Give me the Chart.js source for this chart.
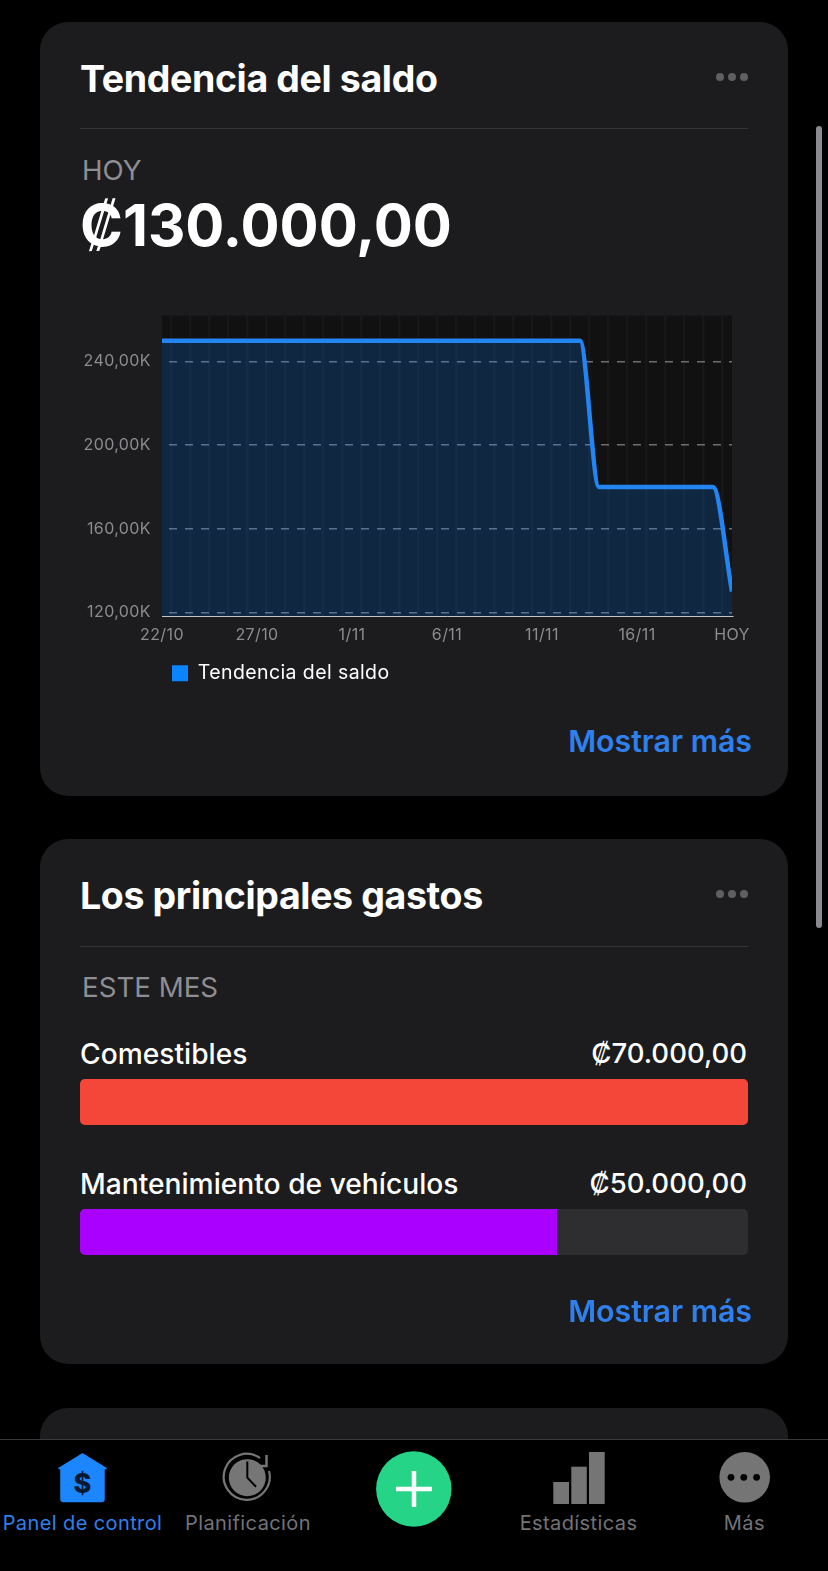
<!DOCTYPE html>
<html lang="es"><head><meta charset="utf-8">
<script src="https://cdn.jsdelivr.net/npm/chart.js@4/dist/chart.umd.js"></script>
<style>
html,body{margin:0;padding:0;background:#000;width:828px;height:1571px;overflow:hidden;font-family:Inter,"Noto Sans",sans-serif;color:#fff}
.abs,.card,canvas{position:absolute}
.card{left:40px;width:748px;background:#1c1c1e;border-radius:28px}
.t{position:absolute;white-space:nowrap;line-height:1}
.h{left:80px;font-size:37.5px;font-weight:700;letter-spacing:-.37px}
.sep{position:absolute;left:80px;width:668px;height:1px;background:#343436}
.sub{left:82px;font-size:27.7px;color:#8e8e93;font-weight:400}
.more{right:76px;font-size:30.3px;font-weight:600;color:#2f80ed}
.dots{position:absolute;left:716px;display:flex;gap:4px}
.dots i{width:8px;height:8px;border-radius:50%;background:#5f5f62;display:block}
.lab{font-size:28.2px;font-weight:500}
.val{font-size:27.5px;font-weight:500}
.tab{position:absolute;top:1439px;left:0;width:828px;height:132px;background:#000;border-top:1px solid #3a3a3c;box-sizing:border-box}
.tl{position:absolute;top:1513px;font-size:20px;line-height:1;white-space:nowrap;transform:translateX(-50%);color:#737378;letter-spacing:.4px}
</style></head><body>
<div class="card" style="top:22px;height:774px"></div>
<div class="card" style="top:839px;height:525px"></div>
<div class="card" style="top:1408px;height:120px"></div>
<div class="abs" style="left:816px;top:126px;width:6px;height:802px;border-radius:3px;background:#8a8a8e"></div>

<div class="t h" style="top:59.5px">Tendencia del saldo</div>
<div class="dots" style="top:73px"><i></i><i></i><i></i></div>
<div class="sep" style="top:128px"></div>
<div class="t sub" style="top:156.5px">HOY</div>
<div class="t" id="bal" style="left:80px;top:196px;font-size:58px;font-weight:700">₡130.000,00</div>
<canvas id="trend"></canvas>
<div class="t more" style="top:726px">Mostrar más</div>

<div class="t h" style="top:877px">Los principales gastos</div>
<div class="dots" style="top:890px"><i></i><i></i><i></i></div>
<div class="sep" style="top:946px"></div>
<div class="t sub" style="top:974px">ESTE MES</div>
<div class="t lab" id="l0" style="left:80px;top:1040px"></div>
<div class="t val" id="v0" style="right:81px;top:1040px"></div>
<div class="t lab" id="l1" style="left:80px;top:1170px"></div>
<div class="t val" id="v1" style="right:81px;top:1170px"></div>
<canvas id="spend"></canvas>
<div class="t more" style="top:1295.5px">Mostrar más</div>

<div class="tab"></div>
<svg class="abs" style="left:0;top:1440px" width="828" height="100" viewBox="0 1440 828 100">
  <path d="M82.5 1454 L106 1468.5 H104 V1499 Q104 1501.5 101.5 1501.5 H63.5 Q61 1501.5 61 1499 V1468.5 H59 Z" fill="#1c86ff" stroke="#1c86ff" stroke-width="1.5" stroke-linejoin="round"/>
  <text x="82.5" y="1492.5" text-anchor="middle" font-family="Inter" font-size="27" font-weight="800" fill="#071a33">$</text>
  <path d="M260 1458 A23 23 0 1 0 269 1471" fill="none" stroke="#767676" stroke-width="2.2"/>
  <circle cx="247.3" cy="1477.7" r="18.5" fill="#767676"/>
  <path d="M247.3 1461.5 V1477.7 L256 1486.7" fill="none" stroke="#000" stroke-width="2"/>
  <path d="M266.5 1455 V1466 H255" fill="none" stroke="#767676" stroke-width="2.5"/>
  <circle cx="413.8" cy="1489" r="37.7" fill="#26d487"/>
  <path d="M414 1471 V1507 M396 1489 H432" stroke="#fff" stroke-width="4.5" fill="none"/>
  <rect x="553.3" y="1482" width="15.7" height="22" fill="#757575"/>
  <rect x="571.3" y="1466.7" width="15.5" height="37.3" fill="#757575"/>
  <rect x="589" y="1452" width="15.7" height="52" fill="#757575"/>
  <circle cx="744.7" cy="1477.3" r="25.3" fill="#757575"/>
  <circle cx="731" cy="1477.3" r="3.4" fill="#000"/><circle cx="743.8" cy="1477.3" r="3.4" fill="#000"/><circle cx="756.6" cy="1477.3" r="3.4" fill="#000"/>
</svg>
<div class="tl" style="left:82.5px;color:#2f80ed">Panel de control</div>
<div class="tl" style="left:248px">Planificación</div>
<div class="tl" style="left:578.5px">Estadísticas</div>
<div class="tl" style="left:744.4px">Más</div>

<script>
const dayLabels = ['22/10','23/10','24/10','25/10','26/10','27/10','28/10','29/10','30/10','31/10','1/11','2/11','3/11','4/11','5/11','6/11','7/11','8/11','9/11','10/11','11/11','12/11','13/11','14/11','15/11','16/11','17/11','18/11','19/11','20/11','HOY'];
const balanceValues = [250000,250000,250000,250000,250000,250000,250000,250000,250000,250000,250000,250000,250000,250000,250000,250000,250000,250000,250000,250000,250000,250000,250000,180000,180000,180000,180000,180000,180000,180000,130000];
const yTickValues = [120000,160000,200000,240000];
const seriesName = 'Tendencia del saldo';
const spendCategories = ['Comestibles','Mantenimiento de vehículos'];
const spendValues = [70000,50000];
const money = v => '₡' + String(v).replace(/\B(?=(\d{3})+$)/g,'.') + ',00';

spendCategories.forEach((c,i)=>{document.getElementById('l'+i).textContent=c;document.getElementById('v'+i).textContent=money(spendValues[i]);});

Chart.defaults.animation=false;
Chart.defaults.responsive=false;
Chart.defaults.font.family='Inter';

function place(id,l,t,w,h){const c=document.getElementById(id);c.width=w;c.height=h;c.style.left=l+'px';c.style.top=t+'px';c.style.width=w+'px';c.style.height=h+'px';return c;}

const plotBg={id:'plotBg',beforeDraw(ch){const a=ch.chartArea,x=ch.ctx;x.save();x.fillStyle='#111112';x.fillRect(a.left,a.top,a.width,a.height);x.restore();}};
const spacing={id:'spacing',beforeInit(ch){ch.ctx.letterSpacing='0.4px';},beforeDraw(ch){ch.ctx.letterSpacing='0.4px';}};

/* trend chart: canvas at (60,295) */
new Chart(place('trend',60,295,742,398),{
  type:'line',
  data:{labels:dayLabels,datasets:[{label:seriesName,data:balanceValues,borderColor:'#2285f2',backgroundColor:'rgba(10,132,255,0.2)',borderWidth:4.5,fill:'origin',cubicInterpolationMode:'monotone',pointRadius:0,clip:0}]},
  plugins:[spacing,plotBg],
  options:{
    layout:{padding:{top:10,right:70,left:0,bottom:0}},
    scales:{
      x:{type:'category',offset:false,
        afterFit(ax){ax.height-=0.5;},
        grid:{offset:true,color:'rgba(255,255,255,0.028)',lineWidth:2.5,drawTicks:false},
        border:{color:'#c4c4c8',width:1,z:2},
        ticks:{autoSkip:false,maxRotation:0,padding:9,color:'#8c8c90',font:{size:16},callback(v,i){return i%5===0?this.getLabelForValue(v):'';}}},
      y:{min:117900,max:262000,
        afterBuildTicks(ax){ax.ticks=yTickValues.map(value=>({value}));},
        afterFit(ax){ax.width=102;},
        grid:{color:'rgba(205,205,210,0.5)',lineWidth:1.5,drawTicks:false},
        border:{display:false,dash:[8,8],dashOffset:9},
        ticks:{padding:11,color:'#8c8c90',font:{size:16},callback(v){return (v/1000).toFixed(2).replace('.',',')+'K';}}}
    },
    plugins:{tooltip:{enabled:false},
      legend:{position:'bottom',align:'start',fullSize:false,
        labels:{boxWidth:16,boxHeight:16,padding:10,color:'#fff',font:{size:19.5},
          generateLabels(ch){return ch.data.datasets.map((d,i)=>({text:d.label,fillStyle:'#0a84ff',strokeStyle:'#0a84ff',lineWidth:0,datasetIndex:i,fontColor:'#fff'}));}}}}
  }
});

/* spending bars: canvas at (80,1037), categories 130px apart */
new Chart(place('spend',80,1037,668,260),{
  type:'bar',
  data:{labels:spendCategories,datasets:[
    {label:'Importe',data:spendValues,backgroundColor:['#f5463a','#aa00ff'],barThickness:46,borderSkipped:false,inflateAmount:0,
     borderRadius(c){const r=5;return c.raw===Math.max(...spendValues)?r:{topLeft:r,bottomLeft:r,topRight:0,bottomRight:0};}},
    {label:'Máximo',data:spendValues.map(()=>Math.max(...spendValues)),backgroundColor:'#2e2e30',barThickness:46,borderSkipped:false,inflateAmount:0,borderRadius:5}
  ]},
  options:{indexAxis:'y',layout:{padding:0},
    scales:{x:{display:false,min:0,max:Math.max(...spendValues),stacked:false},
            y:{display:false,stacked:true}},
    plugins:{legend:{display:false},tooltip:{enabled:false}}}
});
</script>
</body></html>
